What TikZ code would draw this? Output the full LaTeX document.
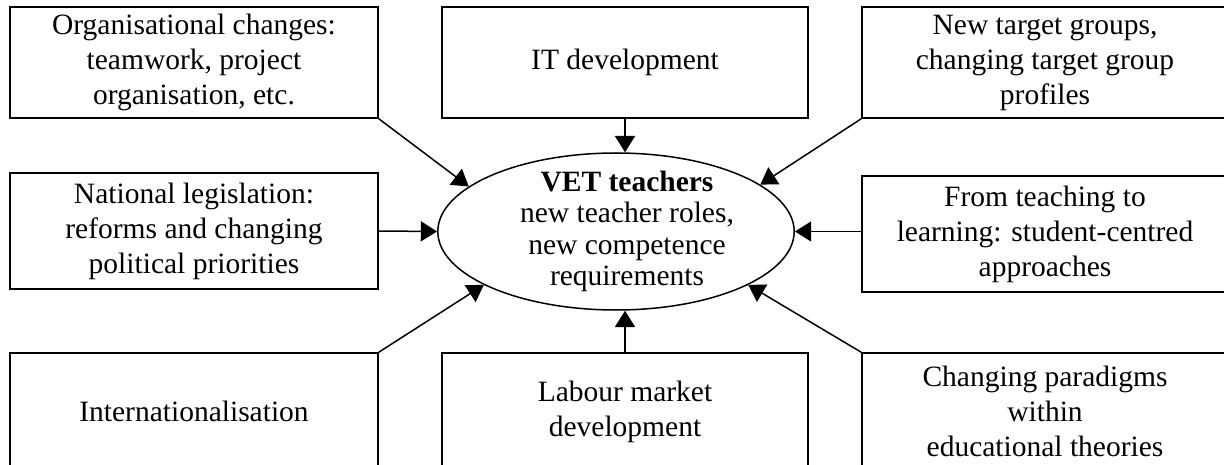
\documentclass[tikz,border=0pt]{standalone}
\usepackage{fontspec}
\setmainfont{Liberation Serif}
\usetikzlibrary{shapes.geometric,arrows.meta}

\begin{document}
\begin{tikzpicture}[x=0.4pt,y=-0.4pt,font=\fontsize{11.8}{14}\selectfont,align=center,
    factor/.style={draw,line width=0.6pt,inner sep=0pt,minimum width=146.4pt,minimum height=44.4pt},
    hub/.style={draw,ellipse,line width=0.6pt,inner sep=0pt,minimum width=138pt,minimum height=62.8pt},
    push/.style={line width=0.6pt,-{Triangle[width=8pt,length=6.5pt]}}]
  \useasboundingbox (0,0) rectangle (1224,465);
  \clip (0,0) rectangle (1224,465);
  \node[factor,minimum width=147.2pt] (org) at (194,62.5) {Organisational changes:\\teamwork, project\\organisation, etc.};
  \node[factor] (itdev) at (625,62.5) {IT development};
  \node[factor] (newtgt) at (1045,62.5) {New target groups,\\changing target group\\profiles};
  \node[factor,minimum width=147.2pt,minimum height=46.4pt] (natleg) at (194,231) {National legislation:\\reforms and changing\\political priorities};
  \node[factor,minimum height=46.4pt] (teach) at (1045,234) {From teaching to\\learning: student-centred\\approaches};
  \node[factor,minimum width=147.2pt,minimum height=46.8pt] (internat) at (194,411.5) {Internationalisation};
  \node[factor,minimum height=46.8pt] (labour) at (625,411.5) {Labour market\\development};
  \node[factor,minimum height=46.8pt] (paradigm) at (1045,411.5) {Changing paradigms\\within\\educational theories};
  \node[hub] (vet) at (616,231.5) {\hbox{\kern8.8pt\parbox[c][30pt][c]{92pt}{\centering\fontsize{11.8}{12.6}\selectfont
        \textbf{VET teachers}\\new teacher roles,\\new competence\\requirements}}};
  \draw[push] (org.south east) -- (vet.163);
  \draw[push] (itdev.south) -- (itdev.south |- vet.north);
  \draw[push] (newtgt.south west) -- (vet.18);
  \draw[push] (natleg.east) -- (vet.west);
  \draw[push] (teach.west |- vet.east) -- (vet.east);
  \draw[push] (internat.north east) -- (vet.202);
  \draw[push] (labour.north) -- (labour.north |- vet.south);
  \draw[push] (paradigm.north west) -- (vet.338);
\end{tikzpicture}
\end{document}
